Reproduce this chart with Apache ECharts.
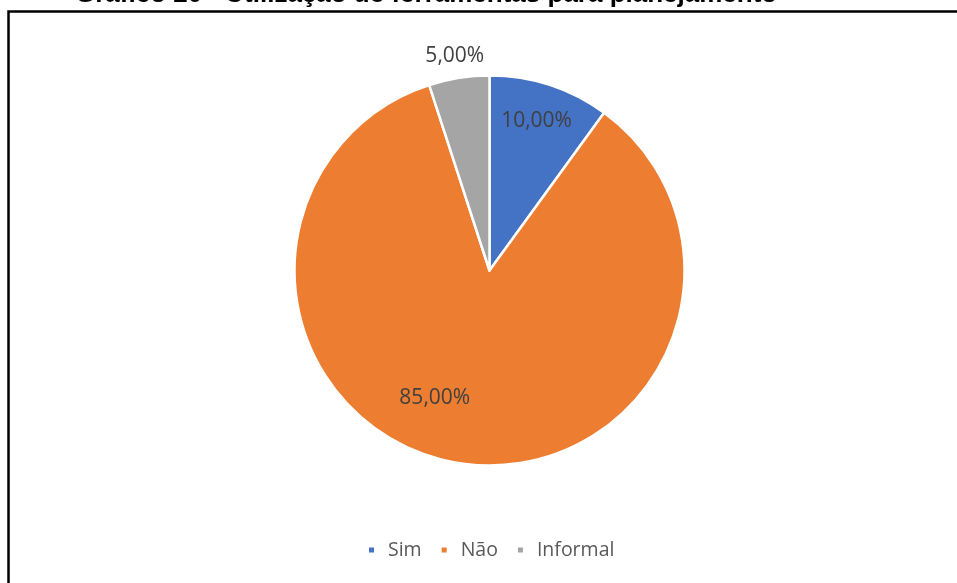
<!DOCTYPE html>
<html>
<head>
<meta charset="utf-8">
<script src="https://cdn.jsdelivr.net/npm/echarts@6/dist/echarts.min.js"></script>
<style>
  html, body { margin: 0; padding: 0; background: #fff; }
  #chart { width: 957px; height: 583px; }
</style>
</head>
<body>
<div id="chart"></div>
<script>
// Chart content
const titleText = 'Gráfico 20 - Utilização de ferramentas para planejamento';
const categories = ['Sim', 'Não', 'Informal'];
const shares = [10, 85, 5];          // percent
const colors = ['#4472C4', '#ED7D31', '#A5A5A5'];

// Per-slice nudges for the value labels (best-fit placement)
const labelNudge = [[16, -54], [-39, 28], [-19, -115]];

const chart = echarts.init(document.getElementById('chart'), null, { renderer: 'canvas' });

const fmt = v => v.toFixed(2).replace('.', ',') + '%';

chart.setOption({
  backgroundColor: '#ffffff',
  animation: false,
  color: colors,
  graphic: [
    {
      type: 'text',
      silent: true,
      style: {
        x: 75,
        y: -5,
        text: titleText,
        fontFamily: '"Liberation Sans", Arial, sans-serif',
        fontWeight: 'bold',
        fontSize: 26,
        verticalAlign: 'middle',
        align: 'left',
        fill: '#000'
      }
    },
    {
      type: 'rect',
      shape: { x: 8.5, y: 11.5, width: 1200, height: 1200 },
      style: { fill: 'none', stroke: '#000', lineWidth: 2.5 },
      silent: true
    }
  ],
  legend: {
    data: categories,
    bottom: 18,
    left: 362,
    icon: 'rect',
    itemWidth: 7,
    itemHeight: 7,
    itemGap: 18,
    textStyle: {
      color: '#595959',
      fontSize: 19.5,
      fontFamily: '"Open Sans", sans-serif',
      padding: [0, 0, 0, 8]
    }
  },
  series: [{
    type: 'pie',
    center: [489.5, 270.5],
    radius: 195,
    startAngle: 90,
    clockwise: true,
    itemStyle: { borderColor: '#ffffff', borderWidth: 2.5 },
    label: {
      show: true,
      position: 'inside',
      color: '#404040',
      fontSize: 21,
      fontFamily: '"Open Sans", sans-serif',
      formatter: p => fmt(p.value)
    },
    labelLine: { show: false },
    labelLayout: p => ({ dx: labelNudge[p.dataIndex][0], dy: labelNudge[p.dataIndex][1] }),
    emphasis: { disabled: true },
    data: categories.map((name, i) => ({ name, value: shares[i] }))
  }]
});
</script>
</body>
</html>
